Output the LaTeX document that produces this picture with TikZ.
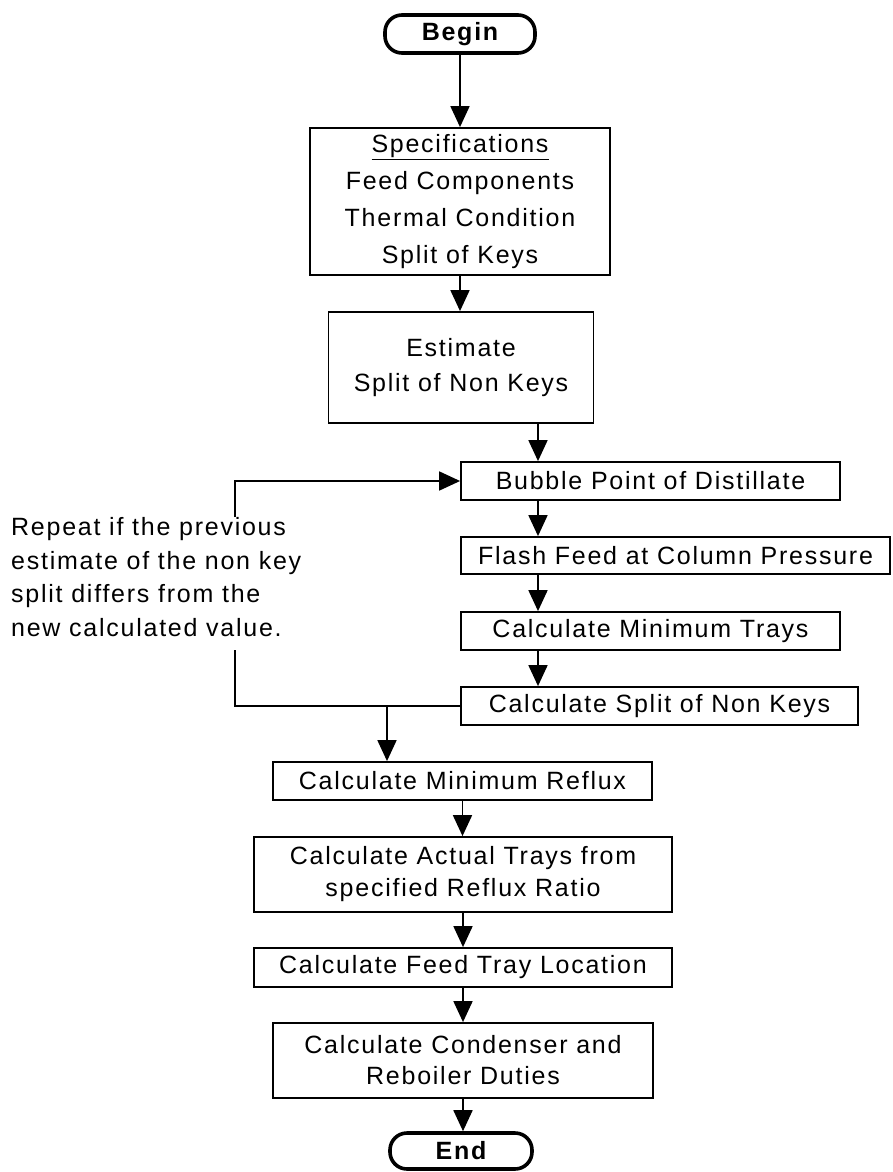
\documentclass[tikz,border=0pt]{standalone}
\usepackage{fontspec}
\setmainfont{Liberation Sans}[LetterSpace=7]
\usetikzlibrary{arrows.meta}
\begin{document}
\begin{tikzpicture}[x=1pt,y=-1pt,
  box/.style={draw, line width=1.8pt, inner sep=0pt, align=center, font=\fontsize{25}{33}\selectfont},
  term/.style={draw, line width=3.6pt, rounded corners=17pt, inner sep=0pt, font=\bfseries\fontsize{25}{30}\selectfont},
  arr/.style={line width=1.8pt, -{Triangle[length=21pt,width=19pt]}},
  ln/.style={line width=1.8pt}]
\useasboundingbox (0,0) rectangle (893,1172);

\node[term, minimum width=150pt, minimum height=38pt] (begin) at (460,34) {Begin};
\node[box, minimum width=300pt, minimum height=147pt, font=\fontsize{25}{37}\selectfont] (spec) at (460,201.5)
  {\underline{Specifications}\\Feed Components\\Thermal Condition\\Split of Keys};
\node[box, minimum width=265pt, minimum height=111pt, font=\fontsize{25}{35}\selectfont] (est) at (461,367.5)
  {Estimate\\Split of Non Keys};
\node[box, minimum width=379pt, minimum height=38pt] (bubble) at (650.5,481) {Bubble Point of Distillate};
\node[box, minimum width=429pt, minimum height=37pt] (flash) at (675.5,555.5) {Flash Feed at Column Pressure};
\node[box, minimum width=379pt, minimum height=38pt] (mintr) at (650.5,631) {Calculate Minimum Trays};
\node[box, minimum width=397pt, minimum height=38pt] (split) at (659.5,706) {Calculate Split of Non Keys};
\node[anchor=north west, inner sep=0pt, align=left, font=\fontsize{25}{33.7}\selectfont] (note) at (11,517)
  {Repeat if the previous\\estimate of the non key\\split differs from the\\new calculated value.};
\node[box, minimum width=379pt, minimum height=38pt] (reflux) at (462.5,781) {Calculate Minimum Reflux};
\node[box, minimum width=418pt, minimum height=75pt, font=\fontsize{25}{32}\selectfont] (actual) at (463,874.5)
  {Calculate Actual Trays from\\specified Reflux Ratio};
\node[box, minimum width=418pt, minimum height=39pt] (feed) at (463,967.5) {Calculate Feed Tray Location};
\node[box, minimum width=380pt, minimum height=75pt, font=\fontsize{25}{31}\selectfont] (cond) at (463,1060.5)
  {Calculate Condenser and\\Reboiler Duties};
\node[term, minimum width=142pt, minimum height=36pt] (endn) at (461,1151) {End};

\coordinate (cx) at (538,0);
\coordinate (lb) at (235,706);
\coordinate (lt) at (235,481);
\coordinate (gapT) at (235,517);
\coordinate (gapB) at (235,650);
\coordinate (j) at (387,706);

\draw[arr] (begin.south) -- (begin.south |- spec.north);
\draw[arr] (spec.south) -- (spec.south |- est.north);
\draw[arr] (est.south -| cx) -- (bubble.north -| cx);
\draw[arr] (bubble.south -| cx) -- (flash.north -| cx);
\draw[arr] (flash.south -| cx) -- (mintr.north -| cx);
\draw[arr] (mintr.south -| cx) -- (split.north -| cx);
\draw[ln] (split.west) -- (lb) -- (gapB);
\draw[arr] (gapT) -- (lt) -- (bubble.west);
\draw[arr] (j) -- (j |- reflux.north);
\draw[arr] (reflux.south) -- (reflux.south |- actual.north);
\draw[arr] (actual.south) -- (actual.south |- feed.north);
\draw[arr] (feed.south) -- (feed.south |- cond.north);
\draw[arr] (cond.south) -- (cond.south |- endn.north);
\end{tikzpicture}
\end{document}
